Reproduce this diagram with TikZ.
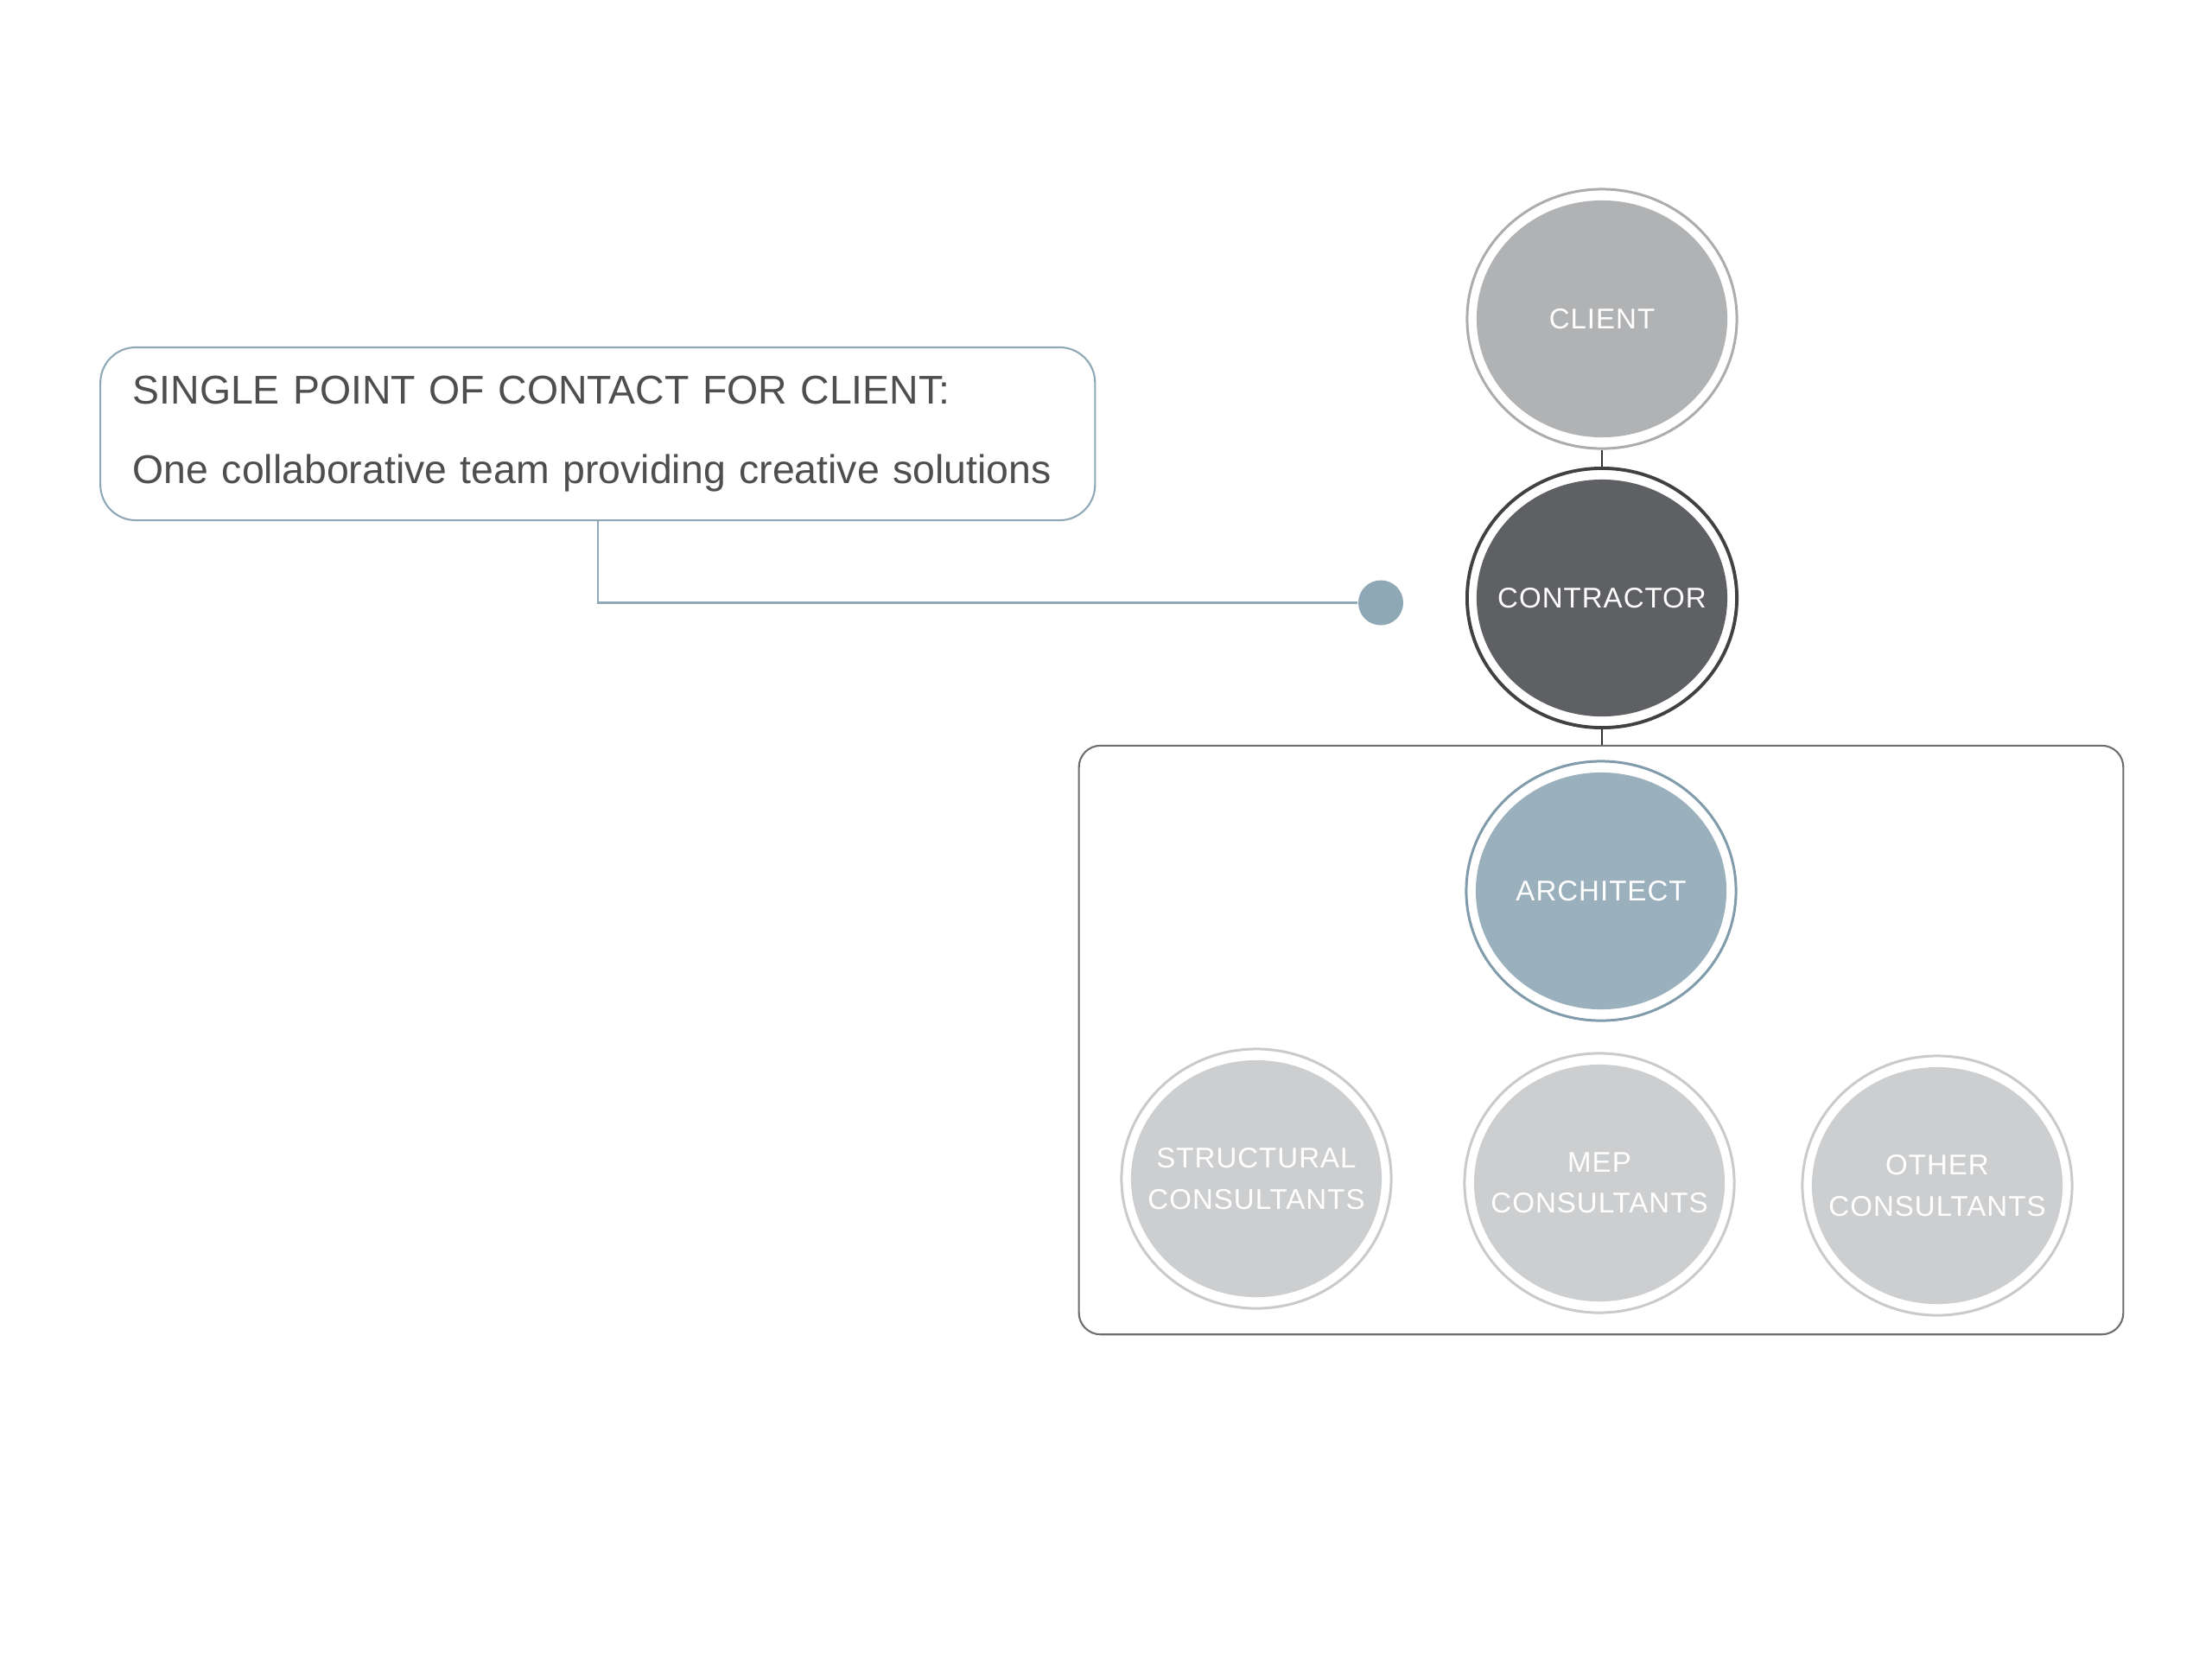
\documentclass[tikz,border=0pt]{standalone}
\usepackage{fontspec}
\setmainfont{Liberation Sans}
\newfontfamily\ringfont[LetterSpace=3]{Liberation Sans}
\usetikzlibrary{shapes.geometric}

\definecolor{clientring}{HTML}{ABACAE}
\definecolor{clientfill}{HTML}{B1B2B4}
\definecolor{contractorring}{HTML}{414143}
\definecolor{contractorfill}{HTML}{5F6063}
\definecolor{archring}{HTML}{809BAA}
\definecolor{archfill}{HTML}{9AB0BC}
\definecolor{consring}{HTML}{C9CACC}
\definecolor{consfill}{HTML}{CDCED0}
\definecolor{notecol}{HTML}{8FA8B5}
\definecolor{textcol}{HTML}{4E4E50}
\definecolor{boxcol}{HTML}{6D6E70}
\definecolor{linkcol}{HTML}{333335}

\begin{document}
\begin{tikzpicture}[x=0.01cm,y=-0.01cm,
  member/.style={ellipse,fill=white,inner sep=0pt,minimum width=3.12cm,minimum height=3.0cm},
  ringtext/.style={text=white,font=\ringfont\fontsize{9.4}{13.5}\selectfont,align=center,inner sep=0pt},
  notebox/.style={draw=notecol,line width=0.6pt,rounded corners=0.41cm,text=textcol,
    font=\fontsize{13.2}{26}\selectfont,align=left,text width=10.755cm,inner xsep=0.375cm,
    minimum height=2cm},
  teambox/.style={draw=boxcol,line width=0.6pt,rounded corners=0.25cm,minimum width=12.08cm,
    minimum height=6.81cm},
  dotnode/.style={circle,fill=notecol,inner sep=0pt,minimum size=0.52cm},
  link/.style={draw=linkcol,line width=0.6pt},
  notelink/.style={draw=notecol,line width=0.6pt}]

% page size (pixels):
\pgfmathsetmacro\pwidth{2560};
\pgfmathsetmacro\pheight{1920};
% inner disc radii:
\pgfmathsetmacro\rin{1.45};
\pgfmathsetmacro\rinh{1.37};

\useasboundingbox (0,0) rectangle (\pwidth,\pheight);

\newcommand{\member}[6]{
  \node[member,draw=#3,line width=#5,
    path picture={\fill[#4] (path picture bounding box.center) ellipse (\rin cm and \rinh cm);}]
    (#1) at (#2) {};
  \node[ringtext] (#1-text) at (#1) {#6};
}

% team box behind the circles
\node[teambox] (team) at (1853,1203.5) {};

\member{client}{1854,369}{clientring}{clientfill}{0.85pt}{CLIENT}
\member{contractor}{1854,692}{contractorring}{contractorfill}{1.1pt}{CONTRACTOR}
\member{architect}{1853,1031}{archring}{archfill}{0.85pt}{ARCHITECT}
\foreach \name/\x/\y/\txt in {structural/1454/1364/STRUCTURAL,mep/1851/1369/MEP,other/2242/1372/OTHER}{
  \member{\name}{\x,\y}{consring}{consfill}{0.85pt}{\txt\\CONSULTANTS}
}

\draw[link] (client.south) -- (contractor.north);
\draw[link] (contractor.south) -- (contractor.south |- team.north);

% callout
\node[notebox] (note) at (691.75,502) {SINGLE POINT OF CONTACT FOR CLIENT:\\One collaborative team providing creative solutions};
\node[dotnode] (dot) at (1598,697.5) {};
\draw[notelink] (note.south) |- (dot);

\end{tikzpicture}
\end{document}
